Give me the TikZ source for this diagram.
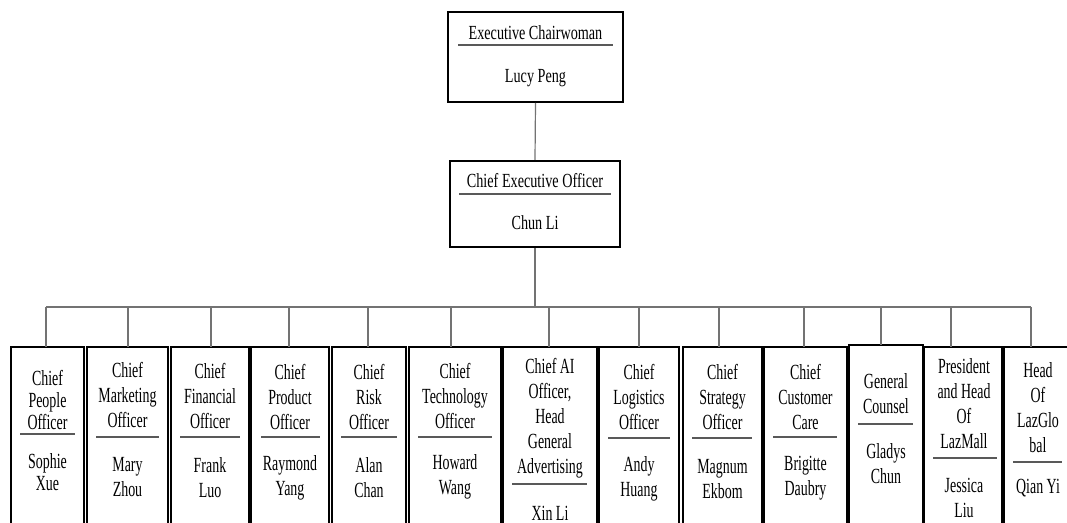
\documentclass[tikz,border=0pt]{standalone}
\usepackage{fontspec}
\setmainfont{Liberation Serif}[FakeStretch=0.71]
\newfontfamily\narrowserif{Liberation Serif}[FakeStretch=0.645]
\usetikzlibrary{fit}
\tikzset{
  box/.style={draw=black, line width=1pt, inner sep=0pt},
  toptxt/.style={align=center, inner sep=0pt, font=\fontsize{10}{12.5}\selectfont},
  txt/.style={align=center, inner sep=0pt, font=\narrowserif\fontsize{10.8}{12.5}\selectfont},
  txttight/.style={align=center, inner sep=0pt, font=\narrowserif\fontsize{10.8}{10.8}\selectfont},
  sepline/.style={draw=black!65, line width=0.55pt},
  conn/.style={draw=black!55, line width=0.6pt}
}
\begin{document}
\begin{tikzpicture}[x=0.5pt,y=-0.5pt]
\useasboundingbox (0,0) rectangle (1067,523);
\clip (0,0) rectangle (1067,523);

% top box
\node[box, fit={(448,12) (623,102)}] (chair) {};
\node[toptxt] (chairT) at (535.5,33) {Executive Chairwoman};
\draw[sepline] (458,45) -- (613,45);
\node[toptxt] (chairN) at (535.5,78) {Lucy Peng};

% CEO box
\node[box, fit={(450,161) (620,247)}] (ceo) {};
\node[toptxt] (ceoT) at (535,181) {Chief Executive Officer};
\draw[sepline] (459,194) -- (611,194);
\node[toptxt] (ceoN) at (535,223) {Chun Li};

% bottom boxes
\node[box, fit={(11,347) (84,530)}] (b1) {};
\node[txttight] at (47.5,400) {Chief\\People\\Officer};
\draw[sepline] (20,434) -- (75,434);
\node[txttight] at (47.5,472) {Sophie\\Xue};

\node[box, fit={(87,347) (168,530)}] (b2) {};
\node[txt] at (127.5,395) {Chief\\Marketing\\Officer};
\draw[sepline] (96,437) -- (159,437);
\node[txt] at (127.5,477) {Mary\\Zhou};

\node[box, fit={(171,347) (249,530)}] (b3) {};
\node[txt] at (210,396) {Chief\\Financial\\Officer};
\draw[sepline] (180,437) -- (240,437);
\node[txt] at (210,478) {Frank\\Luo};

\node[box, fit={(251,347) (329,530)}] (b4) {};
\node[txt] at (290,397) {Chief\\Product\\Officer};
\draw[sepline] (261,437) -- (320,437);
\node[txt] at (290,478) {Raymond\\Yang};

\node[box, fit={(332,347) (406,530)}] (b5) {};
\node[txt] at (369,397) {Chief\\Risk\\Officer};
\draw[sepline] (341,437) -- (397,437);
\node[txt] at (369,478) {Alan\\Chan};

\node[box, fit={(409,347) (501,530)}] (b6) {};
\node[txt] at (455,396) {Chief\\Technology\\Officer};
\draw[sepline] (418,437) -- (492,437);
\node[txt] at (455,477) {Howard\\Wang};

\node[box, fit={(503,347) (597,530)}] (b7) {};
\node[txt] at (550,418) {Chief AI\\Officer,\\Head\\General\\Advertising};
\draw[sepline] (512,484) -- (587,484);
\node[txt] at (550,513) {Xin Li};

\node[box, fit={(599,347) (679,530)}] (b8) {};
\node[txt] at (639,397) {Chief\\Logistics\\Officer};
\draw[sepline] (608,438) -- (670,438);
\node[txt] at (639,479) {Andy\\Huang};

\node[box, fit={(683,347) (762,530)}] (b9) {};
\node[txt] at (722.5,397) {Chief\\Strategy\\Officer};
\draw[sepline] (692,438) -- (752,438);
\node[txt] at (722.5,479) {Magnum\\Ekbom};

\node[box, fit={(764,347) (847,530)}] (b10) {};
\node[txt] at (805.5,397) {Chief\\Customer\\Care};
\draw[sepline] (773,437) -- (837,437);
\node[txt] at (805.5,478) {Brigitte\\Daubry};

\node[box, fit={(849,345) (923,530)}] (b11) {};
\node[txt] at (886,394) {General\\Counsel};
\draw[sepline] (858,424) -- (913,424);
\node[txt] at (886,464) {Gladys\\Chun};

\node[box, fit={(924,347) (1002,530)}] (b12) {};
\node[txt] at (964,404) {President\\and Head\\Of\\LazMall};
\draw[sepline] (933,458) -- (997,458);
\node[txt] at (964,498) {Jessica\\Liu};

\node[box, fit={(1004,347) (1072,530)}] (b13) {};
\node[txt] at (1038,408) {Head\\Of\\LazGlo\\bal};
\draw[sepline] (1013,462) -- (1062,462);
\node[txt] at (1038,488) {Qian Yi};

% connection points
\coordinate (bus) at (0,307);
\coordinate (d1) at (46,347);
\coordinate (d2) at (128,347);
\coordinate (d3) at (211,347);
\coordinate (d4) at (289,347);
\coordinate (d5) at (368,347);
\coordinate (d6) at (451,347);
\coordinate (d7) at (549,347);
\coordinate (d8) at (639,347);
\coordinate (d9) at (719,347);
\coordinate (d10) at (804,347);
\coordinate (d11) at (881,345);
\coordinate (d12) at (951,347);
\coordinate (d13) at (1031,347);

% connectors
\draw[conn] (chair.south) -- (ceo.north);
\draw[conn] (ceo.south) -- (ceo.south |- bus);
\draw[conn] (d1 |- bus) -- (d13 |- bus);
\foreach \i in {1,...,13}{
  \draw[conn] (d\i |- bus) -- (d\i);
}
\end{tikzpicture}
\end{document}
